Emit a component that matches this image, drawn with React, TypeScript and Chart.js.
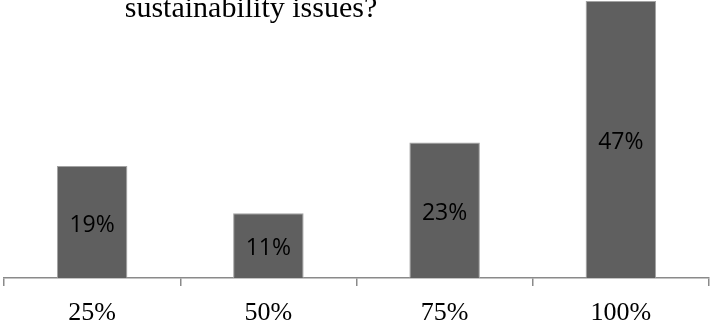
import React, { useEffect, useRef } from "react";
import { Chart, registerables } from "chart.js";

Chart.register(...registerables);

const categories = ["25%", "50%", "75%", "100%"];
const values = [19, 11, 23, 47];
const valueLabels = ["19%", "11%", "23%", "47%"];
const titleText = "sustainability issues?";

const titlePlugin = {
  id: "clippedTitle",
  afterDraw(chart: any) {
    const ctx = chart.ctx;
    ctx.save();
    ctx.font = '30px "Liberation Serif"';
    ctx.fillStyle = "#000000";
    ctx.textAlign = "center";
    ctx.textBaseline = "alphabetic";
    ctx.fillText(titleText, 251, 17);
    ctx.restore();
  },
};

const valueLabelPlugin = {
  id: "valueLabels",
  afterDatasetsDraw(chart: any) {
    const ctx = chart.ctx;
    const meta = chart.getDatasetMeta(0);
    ctx.save();
    ctx.font = '23px "Open Sans"';
    ctx.fillStyle = "#000000";
    ctx.textAlign = "center";
    ctx.textBaseline = "middle";
    meta.data.forEach((bar: any, i: number) => {
      const y = (bar.y + bar.base) / 2 + 3;
      ctx.fillText(valueLabels[i], bar.x, y);
    });
    ctx.restore();
  },
};

export default function App() {
  const ref = useRef<HTMLCanvasElement>(null);
  useEffect(() => {
    if (!ref.current) return;
    const chart = new Chart(ref.current, {
      type: "bar",
      data: {
        labels: categories,
        datasets: [
          {
            data: values,
            backgroundColor: "#5f5f5f",
            borderColor: "#a3a3a3",
            borderWidth: 1,
            categoryPercentage: 1,
            barPercentage: 0.4,
          },
        ],
      },
      options: {
        animation: false,
        responsive: false,
        devicePixelRatio: 1,
        layout: { padding: { top: 1, left: 4, right: 1, bottom: 0 } },
        plugins: {
          legend: { display: false },
          title: { display: false },
          tooltip: { enabled: false },
        },
        scales: {
          y: {
            display: false,
            min: 0,
            max: 47,
          },
          x: {
            offset: true,
            afterFit: (scale: any) => {
              scale.height = 49;
            },
            border: { display: true, color: "#8a8a8a", width: 1.5 },
            grid: {
              offset: true,
              drawOnChartArea: false,
              drawTicks: true,
              tickLength: 8,
              color: "#8a8a8a",
              lineWidth: 1.5,
            },
            ticks: {
              color: "#000000",
              padding: 12,
              font: { family: '"Liberation Serif"', size: 26 },
            },
          },
        },
      },
      plugins: [titlePlugin, valueLabelPlugin],
    });
    return () => chart.destroy();
  }, []);
  return (
    <div style={{ position: "fixed", left: 0, top: 0, width: 710, height: 327, background: "#ffffff" }}>
      <canvas ref={ref} width={710} height={327} style={{ display: "block" }} />
    </div>
  );
}
